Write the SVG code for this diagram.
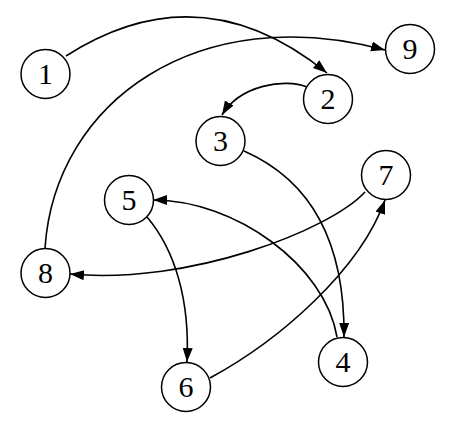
<svg xmlns="http://www.w3.org/2000/svg" width="454" height="446" viewBox="0 0 454 446">
<style>
.node circle{fill:#fff;stroke:#000;stroke-width:1.5}
.node text{font-family:"Liberation Serif","Times New Roman",serif;font-size:30px;text-anchor:middle;fill:#000}
.edges path{fill:none;stroke:#000;stroke-width:1.6}
</style>
<defs>
<marker id="arr" markerUnits="userSpaceOnUse" markerWidth="16" markerHeight="12" refX="14" refY="5" orient="auto">
<path d="M0,0 L14,5 L0,10 z" fill="#000"/>
</marker>
</defs>
<rect width="454" height="446" fill="#fff"/>
<g class="edges">
<path id="e1-2" d="M66,56 Q200,-30 327,73" marker-end="url(#arr)"/>
<path id="e8-9" d="M45,248 C55,100 200,0 385,50" marker-end="url(#arr)"/>
<path id="e2-3" d="M307,87 C285,78 240,85 222,115" marker-end="url(#arr)"/>
<path id="e3-4" d="M244,151 C310,180 345,240 344,337" marker-end="url(#arr)"/>
<path id="e7-8" d="M365,192 C330,230 190,285 70,274" marker-end="url(#arr)"/>
<path id="e4-5" d="M337,337 C325,265 235,200 153,200" marker-end="url(#arr)"/>
<path id="e5-6" d="M147,217 C175,250 190,300 187,362" marker-end="url(#arr)"/>
<path id="e6-7" d="M210,378 C280,340 360,270 385,200" marker-end="url(#arr)"/>
</g>
<g id="n1" class="node"><circle cx="45.5" cy="74" r="24.5"/><text x="45.5" y="84">1</text></g>
<g id="n9" class="node"><circle cx="410" cy="49" r="24.5"/><text x="410" y="59">9</text></g>
<g id="n2" class="node"><circle cx="328" cy="99" r="24.5"/><text x="328" y="109">2</text></g>
<g id="n3" class="node"><circle cx="220.5" cy="141" r="24.5"/><text x="220.5" y="151">3</text></g>
<g id="n7" class="node"><circle cx="386" cy="175" r="24.5"/><text x="386" y="185">7</text></g>
<g id="n5" class="node"><circle cx="129" cy="200" r="24.5"/><text x="129" y="210">5</text></g>
<g id="n8" class="node"><circle cx="45.5" cy="273" r="24.5"/><text x="45.5" y="283">8</text></g>
<g id="n4" class="node"><circle cx="343" cy="362" r="24.5"/><text x="343" y="372">4</text></g>
<g id="n6" class="node"><circle cx="186" cy="387" r="24.5"/><text x="186" y="397">6</text></g>
</svg>
